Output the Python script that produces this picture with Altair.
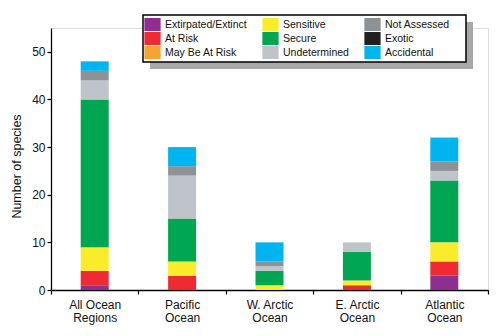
import altair as alt
import pandas as pd

regions = ["All Ocean Regions", "Pacific Ocean", "W. Arctic Ocean", "E. Arctic Ocean", "Atlantic Ocean"]
statuses = ["Extirpated/Extinct", "At Risk", "May Be At Risk", "Sensitive", "Secure",
            "Undetermined", "Not Assessed", "Exotic", "Accidental"]
colors = ["#8E2F8F", "#EE2B33", "#F6A431", "#F9EC2B", "#00A651",
          "#BFC4CA", "#8D9297", "#231F20", "#00B5EF"]

extirpated = [1, 0, 0, 0, 3]
at_risk = [3, 3, 0, 1, 3]
may_be_at_risk = [0, 0, 0, 0, 0]
sensitive = [5, 3, 1, 1, 4]
secure = [31, 9, 3, 6, 13]
undetermined = [4, 9, 1, 2, 2]
not_assessed = [2, 2, 1, 0, 2]
exotic = [0, 0, 0, 0, 0]
accidental = [2, 4, 4, 0, 5]

series = [extirpated, at_risk, may_be_at_risk, sensitive, secure,
          undetermined, not_assessed, exotic, accidental]

rows = []
for k, (status, vals) in enumerate(zip(statuses, series)):
    for region, v in zip(regions, vals):
        if v > 0:
            rows.append({"region": region, "status": status, "count": v, "rank": k})
df = pd.DataFrame(rows)

FONT = "Liberation Sans"

bars = alt.Chart(df).mark_bar(size=28).encode(
    x=alt.X("region:N", sort=regions, title=None,
            scale=alt.Scale(paddingInner=0, paddingOuter=0),
            axis=alt.Axis(labelAngle=0, tickBand="extent", tickSize=4, tickColor="black",
                          tickWidth=1.2, domainColor="black", domainWidth=1.3,
                          labelFontSize=12, labelColor="#111", labelPadding=5,
                          labelLineHeight=13, labelFont=FONT,
                          labelExpr="[substring(datum.label, 0, lastindexof(datum.label, ' ')), substring(datum.label, lastindexof(datum.label, ' ') + 1)]")),
    y=alt.Y("count:Q", stack="zero", title="Number of species",
            scale=alt.Scale(domain=[0, 55], nice=False),
            axis=alt.Axis(values=[0, 10, 20, 30, 40, 50], grid=False, tickSize=4,
                          tickColor="black", tickWidth=1.2, domainColor="black",
                          domainWidth=1.3, labelFontSize=12, labelColor="#111",
                          labelPadding=2, labelFont=FONT, titleFont=FONT,
                          titleFontSize=12.5, titleFontWeight="normal",
                          titleColor="#111", titlePadding=8, titleY=138)),
    color=alt.Color("status:N",
                    scale=alt.Scale(domain=statuses, range=colors),
                    legend=alt.Legend(title=None, orient="none", legendX=92, legendY=-13,
                                      columns=3, columnPadding=15, rowPadding=1,
                                      symbolType="M-1.25,-1H1.25V1H-1.25Z", symbolSize=169,
                                      symbolStrokeWidth=0, symbolOpacity=1,
                                      labelFontSize=10.5, labelFont=FONT, labelColor="#111",
                                      labelOffset=6, padding=3)),
    order=alt.Order("rank:Q", sort="ascending"),
)

deco = pd.DataFrame({"a": [0]})
shadow = alt.Chart(deco).mark_rect(color="#A8A8A8").encode(
    x=alt.value(99), x2=alt.value(422), y=alt.value(-6), y2=alt.value(41)
)
box = alt.Chart(deco).mark_rect(fill="white", stroke="black", strokeWidth=1.5).encode(
    x=alt.value(92), x2=alt.value(415), y=alt.value(-13), y2=alt.value(34)
)

chart = alt.layer(bars, shadow, box).properties(
    width=437, height=262,
    autosize=alt.AutoSizeParams(type="none"),
    padding={"left": 51, "top": 28, "right": 11, "bottom": 46},
).configure_view(stroke="black", strokeWidth=1.3).configure(background="white")

chart.save("out.html", embed_options={"renderer": "svg", "actions": False})
